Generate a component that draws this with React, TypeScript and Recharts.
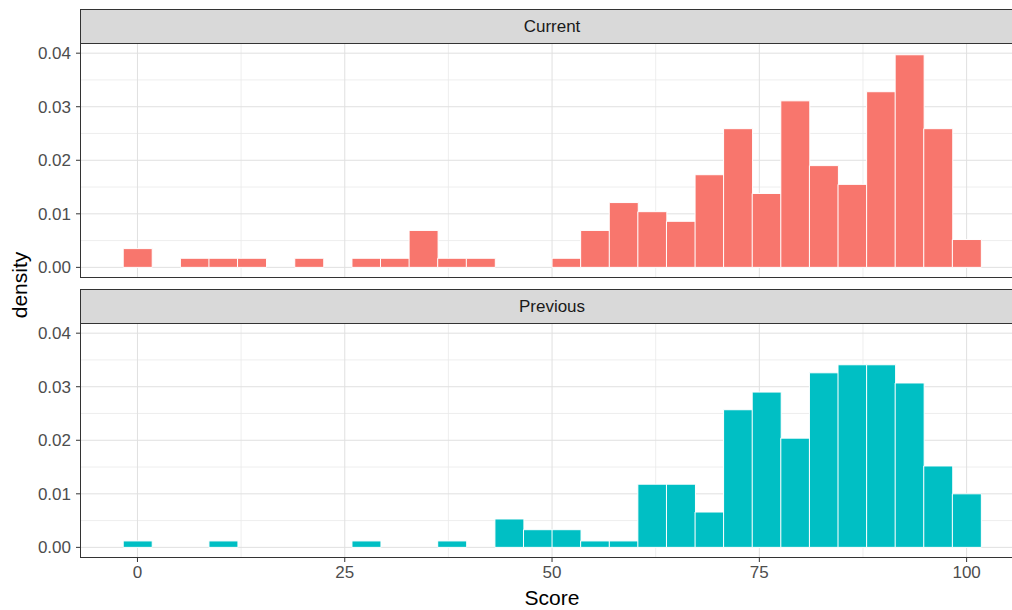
import React from "react";
import { BarChart, Bar, XAxis, YAxis, CartesianGrid } from "recharts";

// bin centres (score), 30 bins over 0..100
const binCenters = [
  0, 3.45, 6.9, 10.34, 13.79, 17.24, 20.69, 24.14, 27.59, 31.03,
  34.48, 37.93, 41.38, 44.83, 48.28, 51.72, 55.17, 58.62, 62.07, 65.52,
  68.97, 72.41, 75.86, 79.31, 82.76, 86.21, 89.66, 93.1, 96.55, 100,
];

const currentDensity = [
  0.0035, 0, 0.0017, 0.0017, 0.0017, 0, 0.0017, 0, 0.0017, 0.0017,
  0.0069, 0.0017, 0.0017, 0, 0, 0.0017, 0.0069, 0.0121, 0.0104, 0.0086,
  0.0173, 0.0259, 0.0138, 0.0311, 0.019, 0.0155, 0.0328, 0.0397, 0.0259, 0.0052,
];

const previousDensity = [
  0.0012, 0, 0, 0.0012, 0, 0, 0, 0, 0.0012, 0,
  0, 0.0012, 0, 0.0053, 0.0033, 0.0033, 0.0012, 0.0012, 0.0118, 0.0118,
  0.0066, 0.0257, 0.029, 0.0204, 0.0326, 0.0341, 0.0341, 0.0307, 0.0152, 0.01,
];

const panelNames = ["Current", "Previous"];
const panelColors = ["#F8766D", "#00BFC4"];

const xTicks = [0, 25, 50, 75, 100];
const xMinor = [12.5, 37.5, 62.5, 87.5];
const yTicks = [0, 0.01, 0.02, 0.03, 0.04];
const yMinor = [0.005, 0.015, 0.025, 0.035];

const X_DOMAIN: [number, number] = [-6.81, 106.8];
const Y_DOMAIN: [number, number] = [-0.0018, 0.0419];

const FONT = "'Liberation Sans', Arial, Helvetica, sans-serif";
const BORDER = "#333333";

function Panel({ name, values, color, top, last }: {
  name: string; values: number[]; color: string; top: number; last: boolean;
}) {
  const data = binCenters.map((x, i) => ({ x, d: values[i] }));
  const height = last ? 330 : 280;
  return (
    <>
      {/* facet strip */}
      <div style={{
        position: "absolute", left: 80, top: top + 9, width: 944, height: 35,
        boxSizing: "border-box", background: "#D9D9D9", border: `1px solid ${BORDER}`,
        display: "flex", alignItems: "center", justifyContent: "center",
        fontSize: 17, color: "#1A1A1A",
      }}>
        {name}
      </div>
      <div style={{ position: "absolute", left: 0, top, width: 1030, height }}>
        <BarChart
          width={1030}
          height={height}
          data={data}
          margin={{ top: 43, right: 7, bottom: last ? 0 : 3, left: 0 }}
          barCategoryGap={0}
          barGap={0}
        >
          <CartesianGrid
            stroke="#EAEAEA"
            strokeWidth={0.8}
            horizontalValues={yMinor}
            verticalValues={xMinor}
          />
          <CartesianGrid
            stroke="#E0E0E0"
            strokeWidth={1}
            horizontalValues={yTicks}
            verticalValues={xTicks}
          />
          <XAxis
            type="number"
            dataKey="x"
            domain={X_DOMAIN}
            allowDataOverflow
            ticks={xTicks}
            hide={!last}
            height={53}
            axisLine={false}
            tickLine={{ stroke: BORDER }}
            tickSize={5}
            tickMargin={4}
            tick={{ fontSize: 17, fill: "#4D4D4D" }}
            label={{ value: "Score", position: "insideBottom", offset: 5, fontSize: 21, fill: "#000" }}
          />
          <YAxis
            type="number"
            domain={Y_DOMAIN}
            allowDataOverflow
            ticks={yTicks}
            width={81}
            axisLine={false}
            tickLine={{ stroke: BORDER }}
            tickSize={5}
            tickMargin={5}
            tick={{ fontSize: 17, fill: "#4D4D4D" }}
            tickFormatter={(v: number) => v.toFixed(2)}
          />
          <Bar dataKey="d" fill={color} stroke="#FFFFFF" strokeWidth={1} isAnimationActive={false} />
        </BarChart>
      </div>
      {/* panel border */}
      <div style={{
        position: "absolute", left: 80, top: top + 43, width: 944, height: 235,
        boxSizing: "border-box", border: `1px solid ${BORDER}`, pointerEvents: "none",
      }} />
    </>
  );
}

export default function App() {
  return (
    <div style={{
      position: "absolute", left: 0, top: 0, width: 1012, height: 610,
      overflow: "hidden", background: "#fff", fontFamily: FONT,
    }}>
      <Panel name={panelNames[0]} values={currentDensity} color={panelColors[0]} top={0} last={false} />
      <Panel name={panelNames[1]} values={previousDensity} color={panelColors[1]} top={280} last={true} />
      <svg width={40} height={610} style={{ position: "absolute", left: 0, top: 0 }}>
        <text
          x={19}
          y={285}
          transform="rotate(-90 19 285)"
          textAnchor="middle"
          dominantBaseline="central"
          fontSize={21}
          fill="#000"
        >
          density
        </text>
      </svg>
    </div>
  );
}
